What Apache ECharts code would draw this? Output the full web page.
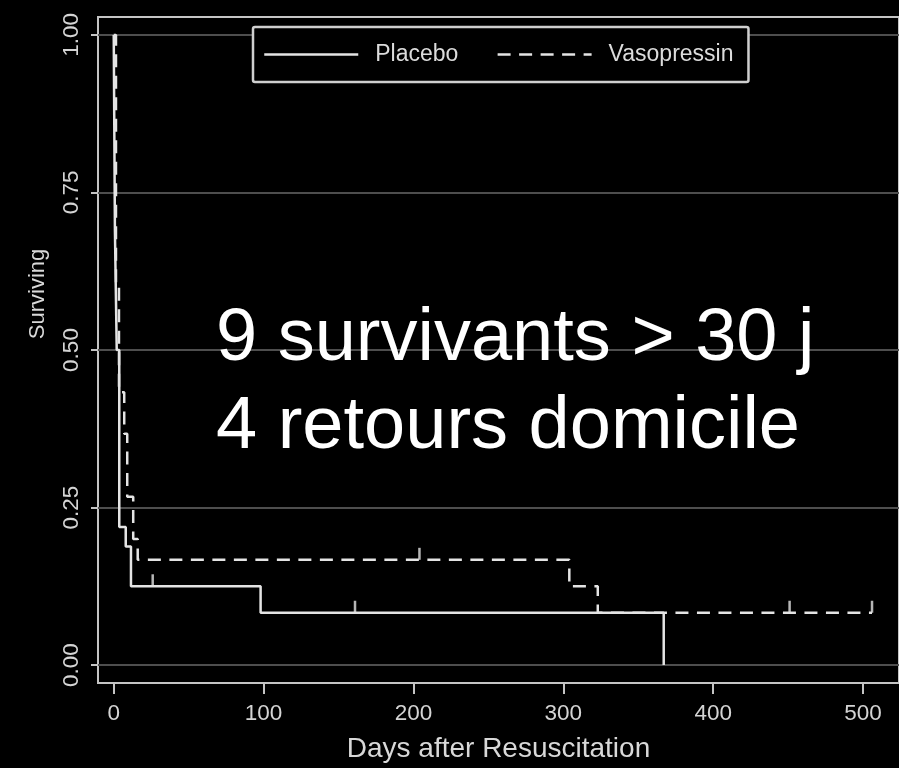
<!DOCTYPE html>
<html>
<head>
<meta charset="utf-8">
<script src="https://cdn.jsdelivr.net/npm/echarts@6/dist/echarts.min.js"></script>
<style>
  html, body { margin: 0; padding: 0; background: #000; }
  #chart { width: 899px; height: 768px; }
</style>
</head>
<body>
<div id="chart"></div>
<script>
// Kaplan-Meier survival after resuscitation: event days and survival after each event
const placeboDays = [0, 0.8, 2, 3.7, 8, 11.5, 98, 367];
const placeboSurv = [1, 0.688, 0.5, 0.219, 0.188, 0.125, 0.083, 0];
const placeboCensorDays = [26, 161];
const placeboCensorSurv = [0.125, 0.083];

const vasoDays = [0, 1.5, 3.5, 7, 9, 13, 16, 304, 323, 506];
const vasoSurv = [1, 0.6, 0.433, 0.367, 0.267, 0.2, 0.167, 0.125, 0.083, 0.083];
const vasoCensorDays = [204, 451, 506];
const vasoCensorSurv = [0.167, 0.083, 0.083];

const xTicks = [0, 100, 200, 300, 400, 500];
const yTicks = [0, 0.25, 0.5, 0.75, 1];
const seriesNames = ['Placebo', 'Vasopressin'];
const noteLines = ['9 survivants > 30 j', '4 retours domicile'];

const FONT = '"Liberation Sans", Arial, Helvetica, sans-serif';
const INK = '#e4e4e4';
const zip = (xs, ys) => xs.map((x, i) => [x, ys[i]]);

const chart = echarts.init(document.getElementById('chart'), null, { renderer: 'canvas' });

chart.setOption({
  backgroundColor: '#000',
  animation: false,
  textStyle: { fontFamily: FONT },
  grid: {
    left: 98, top: 17, width: 812, height: 669,
    show: true, borderColor: '#c4c4c4', borderWidth: 2, backgroundColor: 'transparent'
  },
  legend: {
    data: seriesNames,
    left: 253, top: 27,
    orient: 'horizontal',
    padding: [16, 15, 16, 10],
    itemWidth: 94, itemHeight: 14, itemGap: 38,
    borderColor: '#cfcfcf', borderWidth: 2.5, borderRadius: 2,
    backgroundColor: '#000',
    itemStyle: { opacity: 0 },
    lineStyle: { width: 2.5 },
    textStyle: { color: '#dcdcdc', fontSize: 23, fontFamily: FONT, padding: [0, 0, 0, 12] }
  },
  xAxis: {
    type: 'value', min: -10.5, max: 524,
    axisLine: { show: true, onZero: false, lineStyle: { color: '#c4c4c4', width: 2 } },
    axisTick: { show: true, customValues: xTicks, length: 11, lineStyle: { color: '#c4c4c4', width: 2 } },
    axisLabel: { customValues: xTicks, color: '#d4d4d4', fontSize: 22.5, margin: 19 },
    splitLine: { show: false },
    name: 'Days after Resuscitation', nameLocation: 'middle', nameGap: 52,
    nameTextStyle: { color: '#d8d8d8', fontSize: 28 }
  },
  yAxis: {
    type: 'value', min: -0.0285, max: 1.0285,
    axisLine: { show: true, onZero: false, lineStyle: { color: '#c4c4c4', width: 2 } },
    axisTick: { show: true, customValues: yTicks, length: 7, lineStyle: { color: '#c4c4c4', width: 2 } },
    axisLabel: {
      customValues: yTicks, rotate: 90, color: '#d4d4d4', fontSize: 22.5, margin: 15,
      formatter: v => v.toFixed(2)
    },
    splitLine: { show: false },
    name: 'Surviving', nameLocation: 'middle', nameGap: 49, nameRotate: 90,
    nameTextStyle: { color: '#d8d8d8', fontSize: 22, padding: [0, 0, 0, 112] }
  },
  graphic: [{
    type: 'text', left: 216, top: 296, z: 10,
    style: {
      text: noteLines.join('\n'),
      font: '74px ' + FONT,
      fill: '#ffffff',
      lineHeight: 88
    }
  }],
  series: [
    {
      name: seriesNames[0], type: 'line', step: 'end',
      data: zip(placeboDays, placeboSurv),
      symbol: 'none', z: 5,
      lineStyle: { color: INK, width: 2.5, type: 'solid' },
      itemStyle: { color: INK },
      markLine: {
        silent: true, symbol: 'none', z: 1,
        label: { show: false },
        lineStyle: { color: '#4e4e4e', width: 2, type: 'solid' },
        data: yTicks.map(v => ({ yAxis: v }))
      }
    },
    {
      name: seriesNames[1], type: 'line', step: 'end',
      data: zip(vasoDays, vasoSurv),
      symbol: 'none', z: 5,
      lineStyle: { color: INK, width: 2.5, type: [13, 8.5] },
      itemStyle: { color: INK }
    },
    {
      name: 'placebo-censored', type: 'scatter',
      data: zip(placeboCensorDays, placeboCensorSurv),
      symbol: 'rect', symbolSize: [2.5, 12], symbolOffset: [0, -6],
      itemStyle: { color: INK }, z: 6
    },
    {
      name: 'vaso-censored', type: 'scatter',
      data: zip(vasoCensorDays, vasoCensorSurv),
      symbol: 'rect', symbolSize: [2.5, 12], symbolOffset: [0, -6],
      itemStyle: { color: INK }, z: 6
    }
  ]
});
</script>
</body>
</html>
